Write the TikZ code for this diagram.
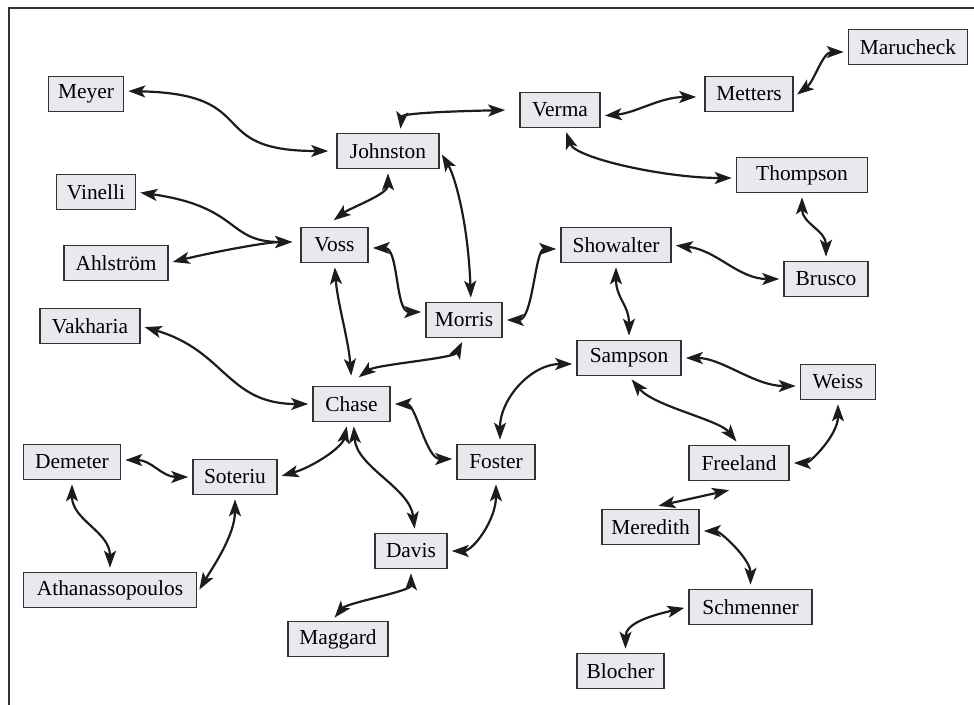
\documentclass[tikz,border=0pt]{standalone}
\usepackage{fontspec}
\setmainfont{Liberation Serif}
\usetikzlibrary{arrows.meta}
\definecolor{boxfill}{RGB}{232,233,238}
\definecolor{boxline}{RGB}{50,50,50}
\definecolor{linkcol}{RGB}{28,28,28}
\tikzset{
  nd/.style={draw=boxline, fill=boxfill, line width=0.8pt, inner sep=0pt,
    minimum height=17.5pt, font=\fontsize{10.7}{12}\selectfont},
  lk/.style={line width=1.1pt, draw=linkcol,
    {Stealth[length=8.5pt,width=6pt,inset=2pt]}-{Stealth[length=8.5pt,width=6pt,inset=2pt]},
    shorten <=2pt, shorten >=2pt},
  frm/.style={line width=1pt, draw=boxline}
}
\begin{document}
\begin{tikzpicture}[x=0.5pt,y=0.5pt]
\useasboundingbox (0,0) rectangle (974,-705);
\draw[frm] (9,-705) -- (9,-8) -- (974,-8);

\node[nd,minimum width=37.5pt] (meyer) at (86,-94) {Meyer};
\node[nd,minimum width=39.5pt] (vinelli) at (96,-192) {Vinelli};
\node[nd,minimum width=52pt] (ahlstrom) at (116,-263) {Ahlström};
\node[nd,minimum width=50pt] (vakharia) at (90,-326) {Vakharia};
\node[nd,minimum width=48.5pt] (demeter) at (72,-462) {Demeter};
\node[nd,minimum width=42pt] (soteriu) at (235,-477) {Soteriu};
\node[nd,minimum width=86.5pt] (athan) at (110,-590) {Athanassopoulos};
\node[nd,minimum width=50pt] (maggard) at (338,-639) {Maggard};
\node[nd,minimum width=51pt] (johnston) at (388,-151) {Johnston};
\node[nd,minimum width=40pt] (verma) at (560,-110) {Verma};
\node[nd,minimum width=44pt] (metters) at (749,-94) {Metters};
\node[nd,minimum width=59.5pt] (marucheck) at (908,-47) {Marucheck};
\node[nd,minimum width=65.5pt] (thompson) at (802,-175) {Thompson};
\node[nd,minimum width=33.5pt] (voss) at (334.5,-245) {Voss};
\node[nd,minimum width=38pt] (morris) at (464,-320) {Morris};
\node[nd,minimum width=55pt] (showalter) at (616,-245) {Showalter};
\node[nd,minimum width=42pt] (brusco) at (826,-279) {Brusco};
\node[nd,minimum width=52pt] (sampson) at (629,-358) {Sampson};
\node[nd,minimum width=37.5pt] (weiss) at (838,-382) {Weiss};
\node[nd,minimum width=38.5pt] (chase) at (351.5,-404) {Chase};
\node[nd,minimum width=39pt] (foster) at (496,-462) {Foster};
\node[nd,minimum width=50pt] (freeland) at (739,-463) {Freeland};
\node[nd,minimum width=36pt] (davis) at (411,-551) {Davis};
\node[nd,minimum width=48.5pt] (meredith) at (650.5,-527) {Meredith};
\node[nd,minimum width=61.5pt] (schmenner) at (750.5,-607) {Schmenner};
\node[nd,minimum width=43.5pt] (blocher) at (620.5,-671) {Blocher};

\draw[lk] ([yshift=1.5pt]meyer.east) .. controls +(140,-3) and +(-130,0) .. ([xshift=-2pt]johnston.west);
\draw[lk] (vinelli.east) .. controls +(105,-15) and +(-70,0) .. ([xshift=-2pt,yshift=1.5pt]voss.west);
\draw[lk] (ahlstrom.east) .. controls +(40,10) and +(-30,0) .. ([xshift=-2pt,yshift=1.5pt]voss.west);
\draw[lk] ([xshift=6pt]johnston.north) .. controls +(2,18) and +(-90,-2) .. ([xshift=-5pt]verma.west);
\draw[lk] ([yshift=-3pt]verma.east) .. controls +(35,3) and +(-40,0) .. ([xshift=-2pt,yshift=-1.5pt]metters.west);
\draw[lk] ([yshift=-1.5pt]metters.east) .. controls +(20,15) and +(-25,0) .. ([yshift=-2.5pt]marucheck.west);
\draw[lk] ([xshift=2.5pt]verma.south) .. controls +(10,-30) and +(-70,0) .. ([yshift=-1.5pt]thompson.west);
\draw[lk] (johnston.south) .. controls +(0,-25) and +(20,15) .. ([xshift=-2pt,yshift=2pt]voss.north);
\draw[lk] (johnston.east) .. controls +(15,-25) and +(-3,80) .. ([xshift=3.5pt]morris.north);
\draw[lk] ([yshift=-1.5pt]voss.east) .. controls +(30,0) and +(-30,0) .. ([yshift=4pt]morris.west);
\draw[lk] (morris.east) .. controls +(30,0) and +(-25,0) .. ([yshift=-2pt]showalter.west);
\draw[lk] (voss.south) .. controls +(3,-40) and +(-3,40) .. ([yshift=3pt]chase.north);
\draw[lk] (morris.south) .. controls +(-10,-20) and +(20,15) .. ([xshift=2pt,yshift=3pt]chase.north);
\draw[lk] (vakharia.east) .. controls +(85,-25) and +(-85,0) .. (chase.west);
\draw[lk] (chase.east) .. controls +(25,0) and +(-30,0) .. ([yshift=1.5pt]foster.west);
\draw[lk] (showalter.south) .. controls +(0,-35) and +(0,35) .. (sampson.north);
\draw[lk] (showalter.east) .. controls +(45,-5) and +(-45,0) .. (brusco.west);
\draw[lk] (thompson.south) .. controls +(0,-30) and +(0,30) .. (brusco.north);
\draw[lk] ([yshift=-3pt]sampson.west) .. controls +(-45,0) and +(0,45) .. ([xshift=2pt]foster.north);
\draw[lk] (sampson.east) .. controls +(40,0) and +(-45,0) .. ([yshift=-2pt]weiss.west);
\draw[lk] (sampson.south) .. controls +(25,-30) and +(-20,25) .. (freeland.north);
\draw[lk] (freeland.east) .. controls +(20,0) and +(0,-35) .. (weiss.south);
\draw[lk] (soteriu.west) .. controls +(-30,0) and +(30,0) .. ([yshift=1pt]demeter.east);
\draw[lk] (soteriu.east) .. controls +(35,10) and +(-5,-25) .. ([xshift=-2pt]chase.south);
\draw[lk] ([xshift=1pt]chase.south) .. controls +(3,-45) and +(-5,45) .. ([xshift=2pt]davis.north);
\draw[lk] (demeter.south) .. controls +(0,-40) and +(0,40) .. (athan.north);
\draw[lk] (soteriu.south) .. controls +(0,-40) and +(15,25) .. ([yshift=-1.5pt]athan.east);
\draw[lk] (davis.east) .. controls +(25,0) and +(0,-40) .. (foster.south);
\draw[lk] (davis.south) .. controls +(0,-22) and +(15,18) .. ([xshift=-3pt]maggard.north);
\draw[lk] ([xshift=-3pt,yshift=-4pt]freeland.south) -- ([xshift=2pt,yshift=1pt]meredith.north);
\draw[lk] ([yshift=-2pt]meredith.east) .. controls +(20,0) and +(0,30) .. (schmenner.north);
\draw[lk] (schmenner.west) .. controls +(-35,-8) and +(0,30) .. ([xshift=2.5pt]blocher.north);
\end{tikzpicture}
\end{document}
